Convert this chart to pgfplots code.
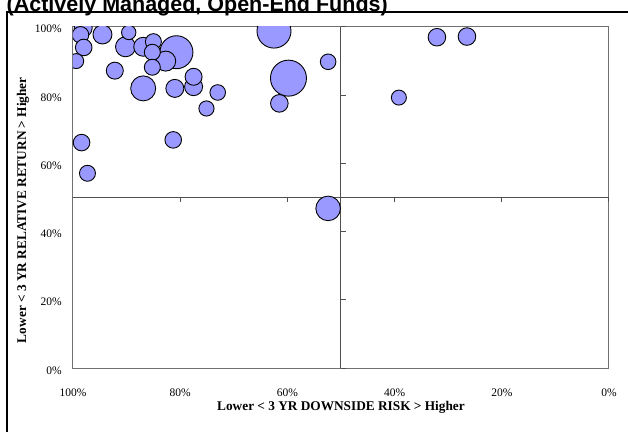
\documentclass[border=0pt]{standalone}
\usepackage{pgfplots}
\pgfplotsset{compat=1.18}
\usepackage{pgfplotstable}
\usepackage{fontspec}
\setmainfont{Liberation Serif}
\newfontfamily\arialfont{Liberation Sans}
\definecolor{bubble}{HTML}{9999FF}
\definecolor{axisgray}{HTML}{707070}
\definecolor{midgray}{HTML}{505050}

% x = downside risk (%), y = relative return (%), r = bubble radius (bp)
\pgfplotstableread{
x     y     r
59.8  85.0  18
62.5  98.8  17
80.7  92.6  16.5
86.9  82.0  12.5
52.4  46.8  12.3
90.2  94.2  10
82.7  90.0  10
94.5  97.8  9.5
86.9  94.2  9.5
98.1  99.7  9
81.0  82.0  9
77.5  82.5  9
61.5  77.6  8.8
32.1  97.0  8.8
26.5  97.2  8.8
92.2  87.2  8.5
77.5  85.4  8.5
98.6  97.7  8.3
98.0  94.0  8.3
98.4  66.1  8.3
81.3  66.9  8.3
85.0  95.7  8
85.2  92.6  8
85.2  88.2  8
97.3  57.1  8
73.0  80.8  7.8
52.4  89.8  7.8
75.1  76.1  7.6
99.4  90.0  7.5
39.2  79.3  7.5
89.6  98.4  7.2
}\bubbles

\begin{document}
\begin{tikzpicture}
\useasboundingbox (0,0) rectangle (628bp,432bp);
\clip (0,0) rectangle (628bp,432bp);
\draw[line width=2bp] (7bp,-5bp) -- (7bp,420.2bp) -- (640bp,420.2bp);
\node[anchor=base west, inner sep=0pt, font=\arialfont\bfseries\fontsize{21.5bp}{24bp}\selectfont] at (6.5bp,420.5bp) {(Actively Managed, Open-End Funds)};
\begin{axis}[
  at={(73bp,64bp)}, anchor=south west,
  scale only axis, width=536bp, height=341bp,
  xmin=0, xmax=100, ymin=0, ymax=100,
  x dir=reverse,
  clip marker paths=true,
  axis line style={draw=axisgray, line width=1bp},
  xtick={0,20,40,60,80,100},
  xticklabels={0\%,20\%,40\%,60\%,80\%,100\%},
  ytick={0,20,40,60,80,100},
  yticklabels={0\%,20\%,40\%,60\%,80\%,100\%},
  major tick length=0pt, tick style={draw=none},
  ticklabel style={font=\fontsize{11.5bp}{13bp}\selectfont, inner sep=0pt},
  xticklabel style={anchor=base, yshift=-28.7bp},
  yticklabel style={anchor=base east, xshift=-11bp, yshift=-6bp},
  xlabel={Lower \textless{} 3 YR DOWNSIDE RISK \textgreater{} Higher},
  ylabel={Lower \textless{} 3 YR RELATIVE RETURN \textgreater{} Higher},
  every axis x label/.style={at={(rel axis cs:0.5,0)}, anchor=base, yshift=-42.7bp,
    font=\bfseries\fontsize{13.3bp}{15bp}\selectfont},
  every axis y label/.style={at={(rel axis cs:0,0.463)}, xshift=-50bp, rotate=90, anchor=center,
    font=\bfseries\fontsize{13.3bp}{15bp}\selectfont},
]
\addplot[midgray, line width=1bp, forget plot] coordinates {(50,0) (50,100)};
\addplot[midgray, line width=1bp, forget plot] coordinates {(0,50) (100,50)};
\pgfplotsinvokeforeach{0,20,40,60,80,100}{
  \draw[midgray, line width=1bp] (axis cs:#1,50) -- ++(0,-5bp);
  \draw[midgray, line width=1bp] (axis cs:50,#1) -- ++(5bp,0);
}
\addplot[scatter, only marks, mark=*,
  scatter/use mapped color={draw=black, fill=bubble},
  mark options={line width=0.9bp},
  visualization depends on={\thisrow{r} \as \rad},
  scatter/@pre marker code/.append style={/tikz/mark size=\rad bp}]
  table[x=x, y=y] {\bubbles};
\end{axis}
\end{tikzpicture}
\end{document}
